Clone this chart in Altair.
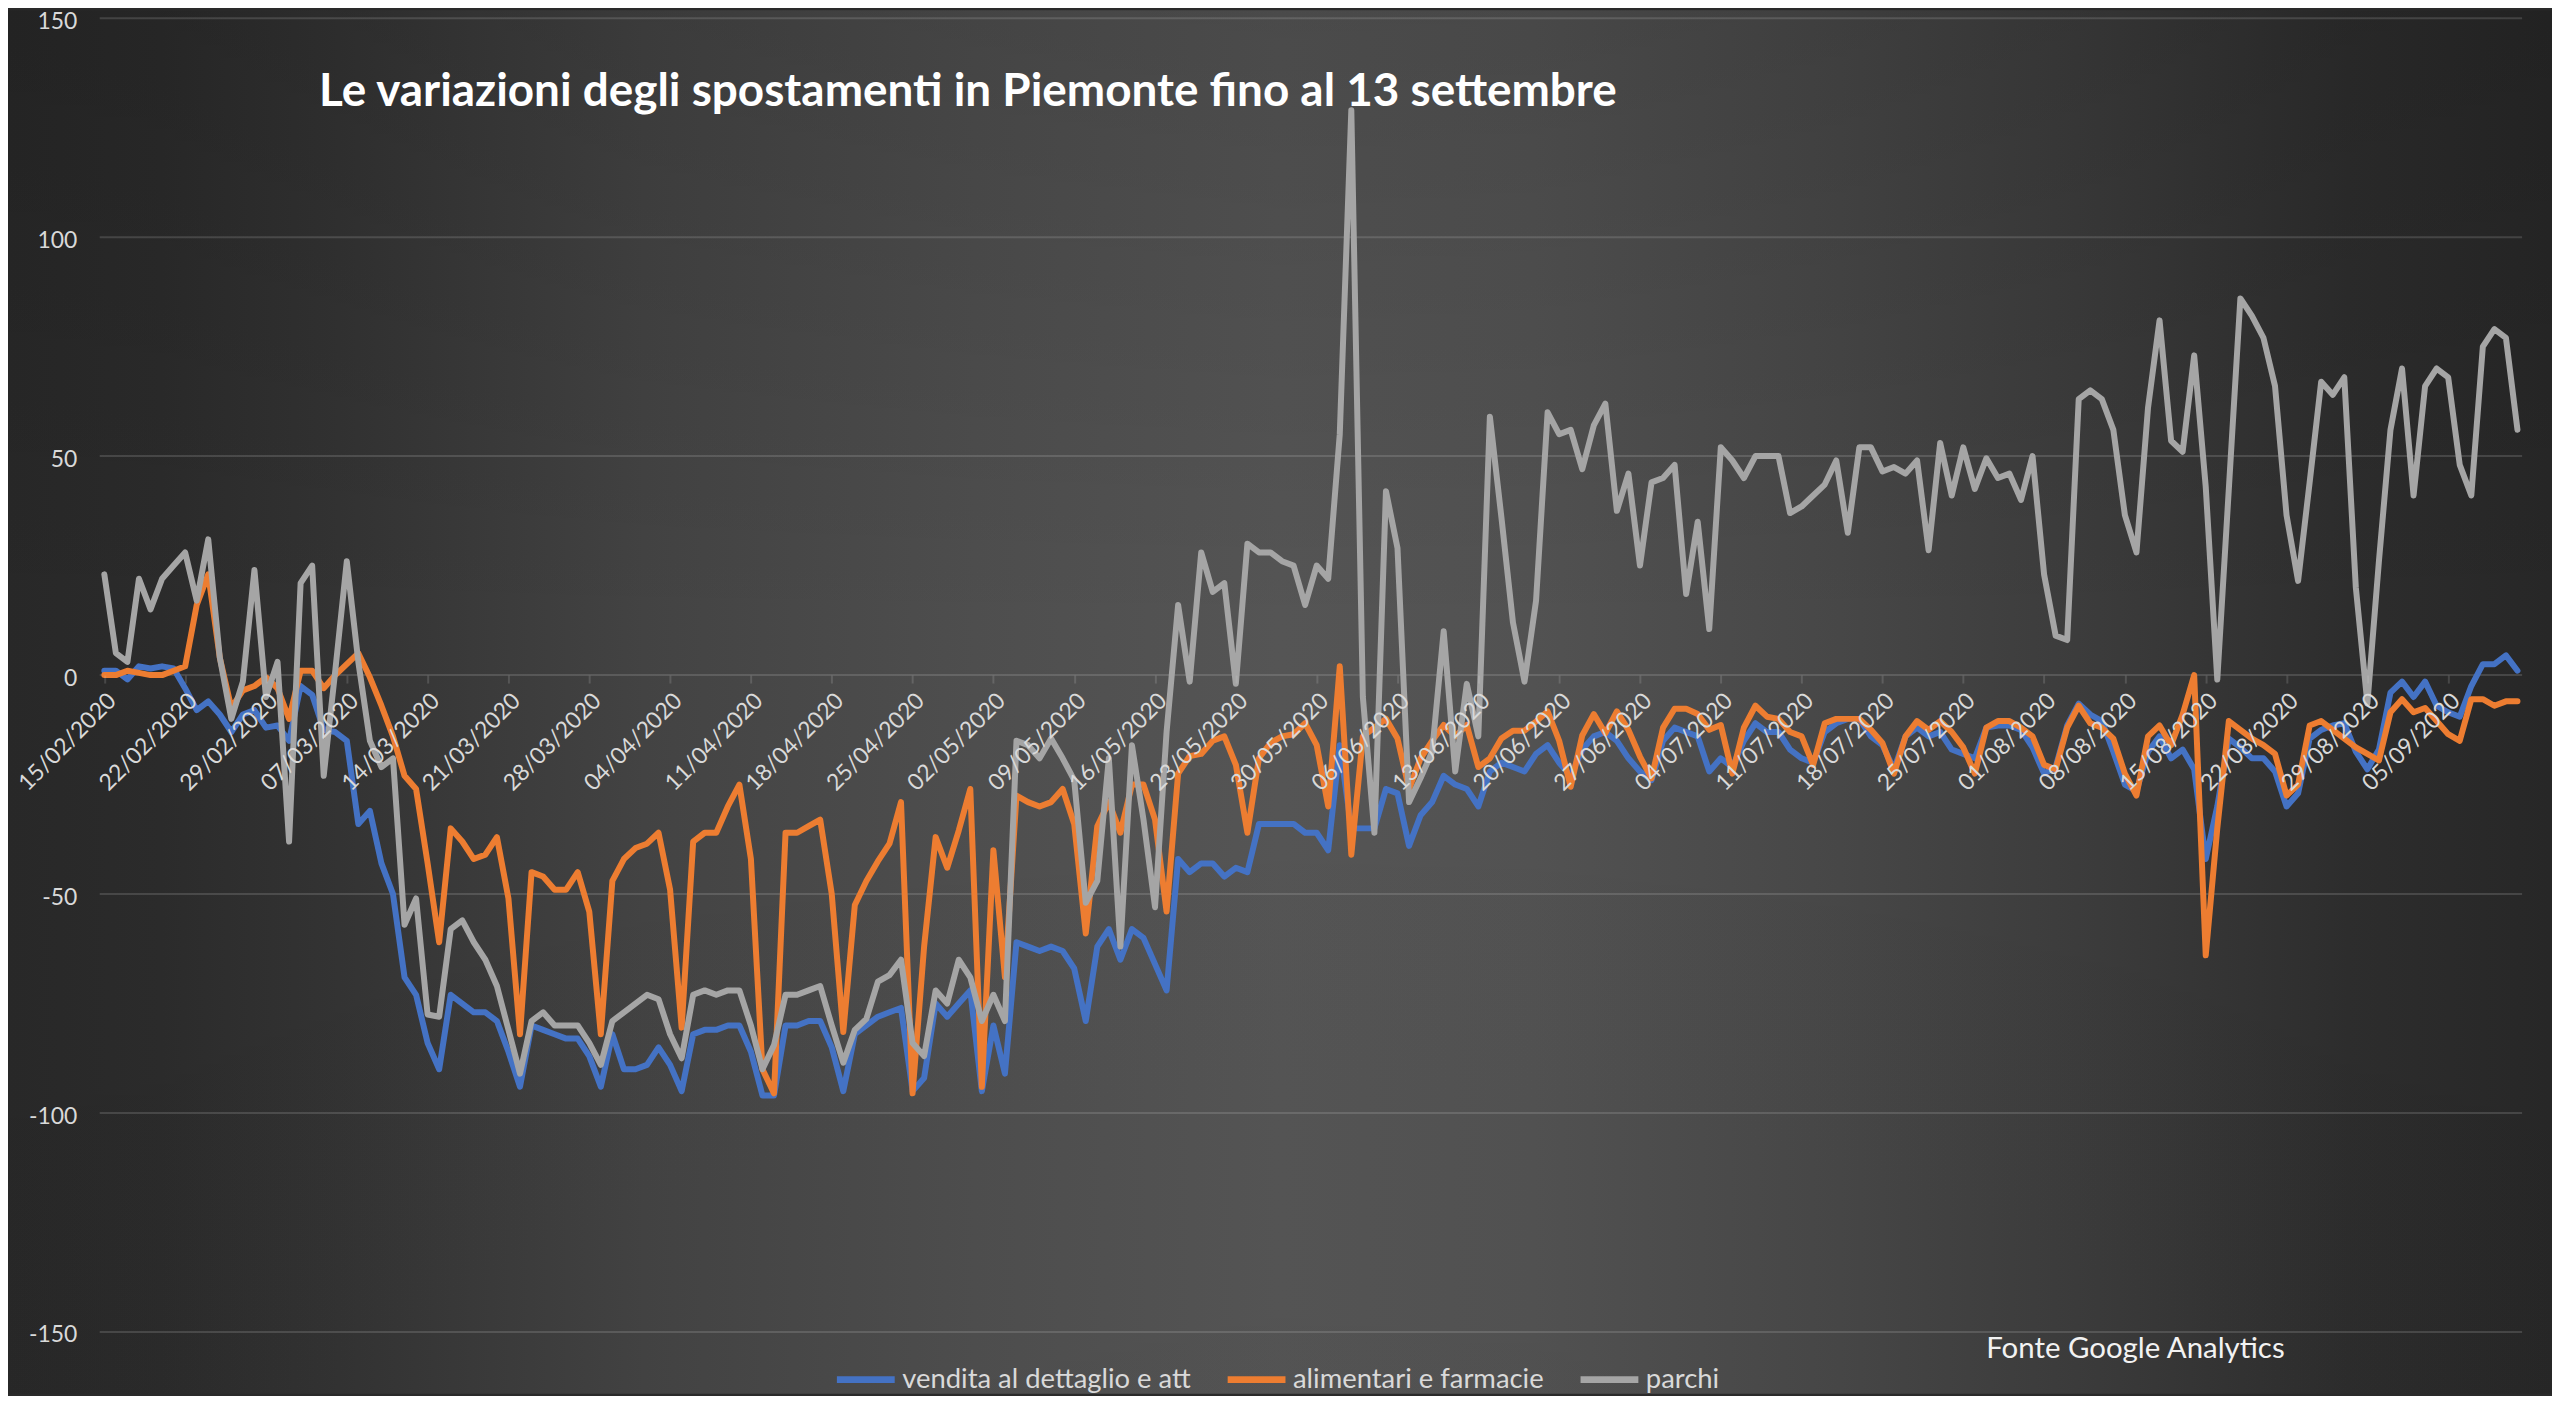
import altair as alt
import pandas as pd

# ---------------- data ----------------
series_names = ["vendita al dettaglio e att", "alimentari e farmacie", "parchi"]
series_colors = ["#4472C4", "#ED7D31", "#A5A5A5"]

blue = [
    1, 1, -1, 2, 1.5, 2, 1.5, -3, -8, -6,
    -9, -13, -9, -8, -12, -11.5, -15, -2.5, -4.5, -12.5,
    -13, -15, -34, -31, -43, -50, -69, -73, -84, -90,
    -73, -75, -77, -77, -79, -86, -94, -80, -81, -82,
    -83, -83, -87, -94, -82, -90, -90, -89, -85, -89,
    -95, -82, -81, -81, -80, -80, -86, -96, -96, -80,
    -80, -79, -79, -85, -95, -82, -80, -78, -77, -76,
    -95, -92, -75, -78, -75, -72, -95, -80, -91, -61,
    -62, -63, -62, -63, -67, -79, -62, -58, -65, -58,
    -60, -66, -72, -42, -45, -43, -43, -46, -44, -45,
    -34, -34, -34, -34, -36, -36, -40, -16, -35, -35,
    -35, -26, -27, -39, -32, -29, -23, -25, -26, -30,
    -22, -20, -21, -22, -18, -16, -20, -23, -17, -14,
    -13, -15, -19, -22, -24, -15, -12, -13, -14, -22,
    -19, -21, -15, -11, -13, -13, -17, -19, -20, -13,
    -11, -10, -10, -14, -16, -21.5, -14, -12, -14, -13,
    -17, -18, -19, -12, -11.5, -11.5, -12.5, -16.5, -22.5, -21,
    -11.5, -6.5, -9, -10.5, -17.5, -25, -26.5, -17.5, -14, -19,
    -17, -21.5, -42, -30, -14.5, -16.5, -19, -19, -22, -30,
    -27, -14.5, -12.5, -11.5, -11, -17.5, -21.5, -17, -4, -1.5,
    -5, -1.5, -7, -8.5, -9.5, -2.5, 2.5, 2.5, 4.5, 1,
]

orange = [
    0, 0, 1, 0.5, 0, 0, 1, 2, 16, 23,
    4, -7.5, -3.5, -2.5, -0.5, -3, -10, 1, 1, -3,
    0, 2.5, 5, -0.5, -7, -14, -23, -26, -43, -61,
    -35, -38, -42, -41, -37, -51, -82, -45, -46, -49,
    -49, -45, -54, -82, -47, -42, -39.5, -38.5, -36, -49,
    -80.5, -38, -36, -36, -30, -25, -42, -90, -95.5, -36,
    -36, -34.5, -33, -50, -81.5, -52.5, -47, -42.5, -38.5, -29,
    -95.5, -62, -37, -44, -35.5, -26, -94, -40, -69, -27.5,
    -29, -30, -29, -26, -34, -59, -34.5, -29, -36, -25,
    -25, -33, -54, -22.5, -18.5, -18, -15, -14, -20.5, -36,
    -19, -15.5, -14, -13.5, -11, -16, -30, 2, -41, -14,
    -12, -10, -14.5, -26, -19, -15, -11.4, -14, -11.4, -21,
    -19, -14.5, -12.7, -12.7, -10.6, -8.3, -15, -25.5, -13.8, -8.9,
    -13.3, -8.3, -12.5, -18.6, -23.6, -12, -7.7, -7.7, -8.9, -12.5,
    -11.4, -22.5, -12, -7, -9.5, -10, -13, -14, -20.5, -11,
    -10, -10, -10, -12.5, -15.5, -22.5, -14, -10.5, -12.5, -10.5,
    -13, -16.5, -22.5, -12, -10.5, -10.5, -12, -14, -20.5, -21.5,
    -12, -7, -11, -12, -14.5, -22.5, -27.5, -14, -11.5, -16,
    -9, 0, -64, -35, -10.5, -12.5, -14.5, -16, -18, -27.5,
    -25, -11.5, -10.5, -12.5, -14.5, -16.5, -18, -19.5, -8.5, -5.5,
    -8.5, -7.5, -10.5, -13.5, -15, -5.5, -5.5, -7, -6, -6,
]

grey = [
    23, 5, 3, 22, 15, 22, 25, 28, 17, 31,
    4, -10, -1.5, 24, -5, 3, -38, 21, 25, -23,
    1, 26, 3, -15, -21, -19, -57, -51, -77.5, -78,
    -58, -56, -61, -65, -71, -81, -91, -79, -77, -80,
    -80, -80, -84, -89, -79, -77, -75, -73, -74, -82,
    -87.5, -73, -72, -73, -72, -72, -80, -90, -84.5, -73,
    -73, -72, -71, -80, -88.5, -81, -78.5, -70, -68.5, -65,
    -84, -87, -72, -75, -65, -69, -79, -73, -79, -15,
    -16, -19, -14.5, -19, -24, -52, -47, -19, -62, -16,
    -33, -53, -13, 16, -1.5, 28, 19, 21, -2, 30,
    28, 28, 26, 25, 16, 25, 22, 55, 129, -5,
    -36, 42, 29, -29, -23.5, -17.5, 10, -22, -2, -14,
    59, 36, 12, -1.5, 17, 60, 55, 56, 47, 57,
    62, 37.5, 46, 25, 44, 45, 48, 18.5, 35, 10.5,
    52, 49, 45, 50, 50, 50, 37, 38.5, 41, 43.5,
    49, 32.5, 52, 52, 46.5, 47.5, 46, 49, 28.5, 53,
    41, 52, 42.5, 49.5, 45, 46, 40, 50, 23, 9,
    8, 63, 65, 63, 56, 36.5, 28, 61, 81, 53.5,
    51, 73, 43, -1, 42.5, 86, 82, 77, 66, 36.5,
    21.5, 44, 67, 64, 68, 20, -6.5, 26, 56, 70,
    41, 66, 70, 68, 48, 41, 75, 79, 77, 56,
]

assert len(blue) == len(orange) == len(grey) == 210

dates = [d.strftime("%d/%m/%Y") for d in pd.date_range("2020-02-15", periods=len(blue), freq="D")]
label_dates = dates[::7]
y_ticks = [-150, -100, -50, 0, 50, 100, 150]

title_text = "Le variazioni degli spostamenti in Piemonte fino al 13 settembre"
source_text = "Fonte Google Analytics"

rows = []
for name, vals in zip(series_names, [blue, orange, grey]):
    for i, (d, v) in enumerate(zip(dates, vals)):
        rows.append({"date": d, "serie": name, "v": v, "i": i})
df = pd.DataFrame(rows)

# ---------------- layout / style ----------------
W, H = 2430, 1318
PAD = {"left": 92, "top": 8, "right": 30, "bottom": 62}
FONT = "Lato"
LABEL_COL = "#d9d9d9"
GRID_COL = "rgba(217,217,217,0.17)"

y_scale = alt.Scale(domain=[-150, 150], nice=False, zero=False)
y_axis = alt.Axis(
    values=y_ticks, labelExpr="'' + datum.value", domain=False, ticks=False, grid=False,
    labelColor=LABEL_COL, labelFontSize=23, labelFont=FONT, labelPadding=23,
    labelOffset=3, zindex=1, title=None,
)
x_axis = alt.Axis(
    values=label_dates, labelAngle=-45, labelAlign="right", labelBaseline="top",
    labelColor=LABEL_COL, labelFontSize=23, labelFont=FONT, labelPadding=6,
    labelOverlap=False, tickColor=GRID_COL, tickSize=8, tickWidth=2,
    domain=False, grid=False, offset=-H / 2, zindex=1,
    title=source_text, titleX=1892, titleY=685, titleAlign="left",
    titleBaseline="alphabetic", titleFontSize=29.5, titleFontWeight="normal",
    titleColor="#f2f2f2", titleFont=FONT,
)
x_enc = alt.X("date:O", scale=alt.Scale(type="point", domain=dates, padding=0.4), axis=x_axis)
y_enc = alt.Y("v:Q", scale=y_scale, axis=y_axis)
color_enc = alt.Color(
    "serie:N",
    scale=alt.Scale(domain=series_names, range=series_colors),
    legend=alt.Legend(
        title=None, orient="none", legendX=736, legendY=1333, direction="horizontal",
        symbolType="stroke", symbolStrokeWidth=7, symbolSize=3364,
        labelFontSize=27.5, labelColor=LABEL_COL, labelFont=FONT, labelLimit=600,
        columnPadding=22, labelOffset=4, padding=0, zindex=1,
    ),
)

# background: horizontal light band in the middle, slightly darker towards the top
h_gradient = {
    "gradient": "linear", "x1": 0, "y1": 0, "x2": 1, "y2": 0,
    "stops": [
        {"offset": 0.0, "color": "#282828"},
        {"offset": 0.06, "color": "#2b2b2b"},
        {"offset": 0.13, "color": "#333333"},
        {"offset": 0.25, "color": "#434343"},
        {"offset": 0.38, "color": "#4e4e4e"},
        {"offset": 0.5, "color": "#555555"},
        {"offset": 0.6, "color": "#525252"},
        {"offset": 0.72, "color": "#474747"},
        {"offset": 0.83, "color": "#3a3a3a"},
        {"offset": 0.92, "color": "#2d2d2d"},
        {"offset": 1.0, "color": "#272727"},
    ],
}
v_shade = {
    "gradient": "linear", "x1": 0, "y1": 0, "x2": 0, "y2": 1,
    "stops": [
        {"offset": 0.0, "color": "rgba(0,0,0,0.13)"},
        {"offset": 0.45, "color": "rgba(0,0,0,0)"},
        {"offset": 1.0, "color": "rgba(0,0,0,0.02)"},
    ],
}
one_row = pd.DataFrame({"k": [0]})
bg_extent = dict(
    x=alt.value(-PAD["left"]), x2=alt.value(W + PAD["right"]),
    y=alt.value(-PAD["top"]), y2=alt.value(H + PAD["bottom"]),
)
bg = alt.Chart(one_row).mark_rect(fill=h_gradient).encode(**bg_extent)
shade = alt.Chart(one_row).mark_rect(fill=v_shade).encode(**bg_extent)

grid = alt.Chart(pd.DataFrame({"v": y_ticks})).mark_rule(
    color=GRID_COL, strokeWidth=2
).encode(y=alt.Y("v:Q", scale=y_scale, axis=y_axis))


def line_layer(name):
    return (
        alt.Chart(df)
        .transform_filter(alt.datum.serie == name)
        .mark_line(strokeWidth=6, strokeJoin="round", strokeCap="round")
        .encode(x=x_enc, y=y_enc, color=color_enc, order=alt.Order("i:Q"))
    )


chart = (
    alt.layer(bg, shade, grid, *[line_layer(n) for n in series_names])
    .properties(
        width=W, height=H, padding=PAD,
        autosize=alt.AutoSizeParams(type="none"),
        background="#2a2a2a",
        title=alt.TitleParams(
            text=title_text, anchor="start", orient="top", frame="group",
            dx=220, dy=142, offset=0, zindex=1, baseline="alphabetic",
            fontSize=46, fontWeight="bold", color="#ffffff", font=FONT,
        ),
    )
    .configure_view(stroke=None)
)

chart.save("out.html", embed_options={"renderer": "svg", "actions": False})
